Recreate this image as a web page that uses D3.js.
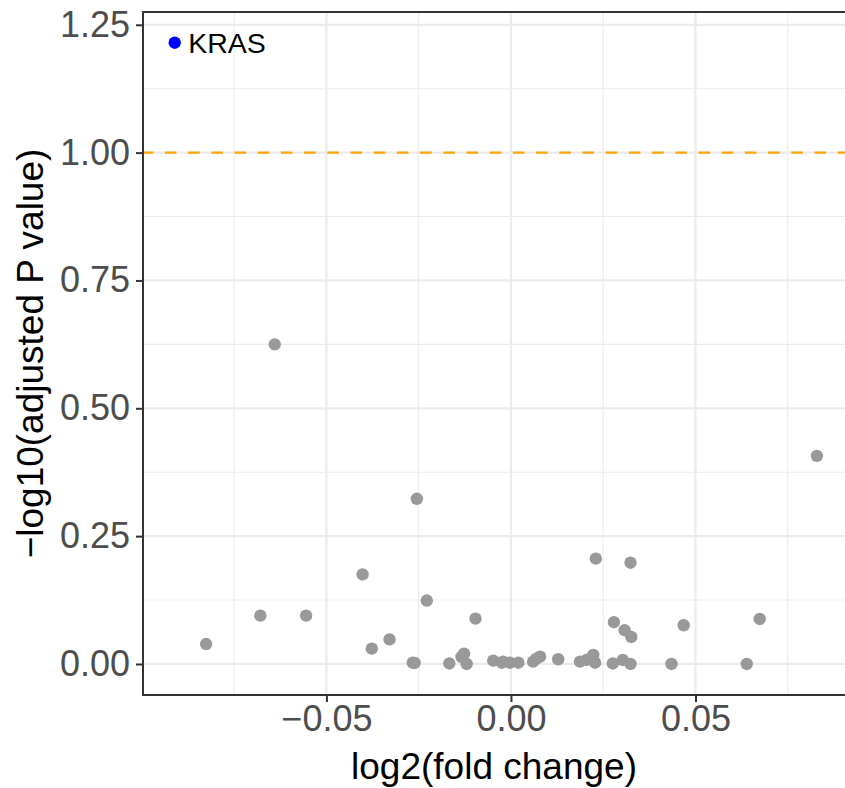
<!DOCTYPE html>
<html>
<head>
<meta charset="utf-8">
<script src="https://cdn.jsdelivr.net/npm/d3@7"></script>
<style>
  html, body { margin: 0; padding: 0; background: #fff; }
  svg { display: block; font-family: "Liberation Sans", Arial, Helvetica, sans-serif; }
</style>
</head>
<body>
<svg id="chart" width="845" height="788"></svg>
<script>
// ---- data ----
const genes = ["KRAS"];
const geneLogFC = [-0.0911];
const geneLogP = [1.215];

const logFC = [
  -0.0826, -0.0679, -0.0555, -0.0640, -0.0402, -0.0377, -0.0329, -0.0255, -0.0228, -0.0096,
  -0.0266, -0.0261, -0.0167, -0.0127, -0.0134, -0.0120, -0.0048, -0.0025, -0.0021, -0.0003,
   0.0020,  0.0060,  0.0079,  0.0068,  0.0128,  0.0187,  0.0205,  0.0223,  0.0228,  0.0230,
   0.0324,  0.0279,  0.0308,  0.0326,  0.0468,  0.0674,  0.0829,  0.0276,  0.0303,  0.0324,
   0.0435,  0.0639
];
const negLog10P = [
   0.039,  0.0945, 0.0945, 0.625,  0.175,  0.030,  0.048,  0.323,  0.124,  0.0886,
   0.0025, 0.002,  0.001,  0.020,  0.014,  0.000,  0.0065, 0.0025, 0.0045, 0.0025,
   0.0025, 0.0045, 0.0143, 0.0098, 0.0092, 0.0045, 0.0078, 0.0176, 0.0025, 0.206,
   0.198,  0.0816, 0.066,  0.0528, 0.0757, 0.088,  0.407,  0.001,  0.0078, 0.000,
   0.000,  0.000
];
const threshold = 1.0;
const xTicks = [-0.05, 0.00, 0.05];
const xMinorTicks = [-0.075, -0.025, 0.025, 0.075];
const yTicks = [0.00, 0.25, 0.50, 0.75, 1.00, 1.25];
const yMinorTicks = [0.125, 0.375, 0.625, 0.875, 1.125];
const xTitle = "log2(fold change)";
const yTitle = "\u2212log10(adjusted P value)";

// ---- layout ----
const svg = d3.select("#chart");
const panel = { left: 143, top: 12, right: 849, bottom: 695 };

const x = d3.scaleLinear().domain([-0.0997, 0.0916]).range([panel.left, panel.right]);
const y = d3.scaleLinear().domain([-0.0607, 1.275]).range([panel.bottom, panel.top]);

const fmt = v => {
  const s = d3.format(".2f")(Math.abs(v));
  return (v < 0 ? "\u2212" : "") + s;
};

svg.append("defs").append("clipPath").attr("id", "clip")
  .append("rect").attr("x", panel.left).attr("y", panel.top)
  .attr("width", panel.right - panel.left).attr("height", panel.bottom - panel.top);

const g = svg.append("g").attr("clip-path", "url(#clip)");

// minor grid
g.selectAll(".xminor").data(xMinorTicks).join("line")
  .attr("x1", d => x(d)).attr("x2", d => x(d))
  .attr("y1", panel.top).attr("y2", panel.bottom)
  .attr("stroke", "#EBEBEB").attr("stroke-width", 1.1);
g.selectAll(".yminor").data(yMinorTicks).join("line")
  .attr("y1", d => y(d)).attr("y2", d => y(d))
  .attr("x1", panel.left).attr("x2", panel.right)
  .attr("stroke", "#EBEBEB").attr("stroke-width", 1.1);
// major grid
g.selectAll(".xmajor").data(xTicks).join("line")
  .attr("x1", d => x(d)).attr("x2", d => x(d))
  .attr("y1", panel.top).attr("y2", panel.bottom)
  .attr("stroke", "#EBEBEB").attr("stroke-width", 2.2);
g.selectAll(".ymajor").data(yTicks).join("line")
  .attr("y1", d => y(d)).attr("y2", d => y(d))
  .attr("x1", panel.left).attr("x2", panel.right)
  .attr("stroke", "#EBEBEB").attr("stroke-width", 2.2);

// threshold line
g.append("line")
  .attr("x1", panel.left).attr("x2", panel.right)
  .attr("y1", y(threshold)).attr("y2", y(threshold))
  .attr("stroke", "#FFA500").attr("stroke-width", 2.2)
  .attr("stroke-dasharray", "11.6,11.6").attr("stroke-dashoffset", 1.3);

// points
const pts = logFC.map((d, i) => ({ x: d, y: negLog10P[i] }));
g.selectAll(".pt").data(pts).join("circle")
  .attr("cx", d => x(d.x)).attr("cy", d => y(d.y)).attr("r", 6.2)
  .attr("fill", "#999999");

const hl = genes.map((n, i) => ({ name: n, x: geneLogFC[i], y: geneLogP[i] }));
g.selectAll(".hl").data(hl).join("circle")
  .attr("cx", d => x(d.x)).attr("cy", d => y(d.y)).attr("r", 6.2)
  .attr("fill", "#0000FF");
g.selectAll(".lbl").data(hl).join("text")
  .attr("x", d => x(d.x) + 13.5).attr("y", d => y(d.y) + 10)
  .attr("font-size", 28.5).attr("fill", "#000")
  .text(d => d.name);

// panel border
svg.append("rect")
  .attr("x", panel.left).attr("y", panel.top)
  .attr("width", panel.right - panel.left).attr("height", panel.bottom - panel.top)
  .attr("fill", "none").attr("stroke", "#333333").attr("stroke-width", 2);

// axes
const tickFont = 36;
const xAxis = d3.axisBottom(x).tickValues(xTicks).tickFormat(fmt).tickSize(7).tickPadding(3);
const yAxis = d3.axisLeft(y).tickValues(yTicks).tickFormat(fmt).tickSize(7).tickPadding(6);

const gx = svg.append("g").attr("transform", `translate(0,${panel.bottom})`).call(xAxis);
const gy = svg.append("g").attr("transform", `translate(${panel.left},0)`).call(yAxis);
[gx, gy].forEach(a => {
  a.select(".domain").remove();
  a.selectAll(".tick line").attr("stroke", "#333333").attr("stroke-width", 2);
  a.selectAll(".tick text").attr("fill", "#4D4D4D").attr("font-size", tickFont)
    .attr("font-family", "Liberation Sans, Arial, sans-serif");
});

// titles
svg.append("text")
  .attr("x", (panel.left + 845) / 2 ).attr("y", 779)
  .attr("text-anchor", "middle").attr("font-size", 37).attr("fill", "#000")
  .text(xTitle);
svg.append("text")
  .attr("transform", `translate(43,${(panel.top + panel.bottom) / 2}) rotate(-90)`)
  .attr("text-anchor", "middle").attr("font-size", 37).attr("fill", "#000")
  .text(yTitle);
</script>
</body>
</html>
